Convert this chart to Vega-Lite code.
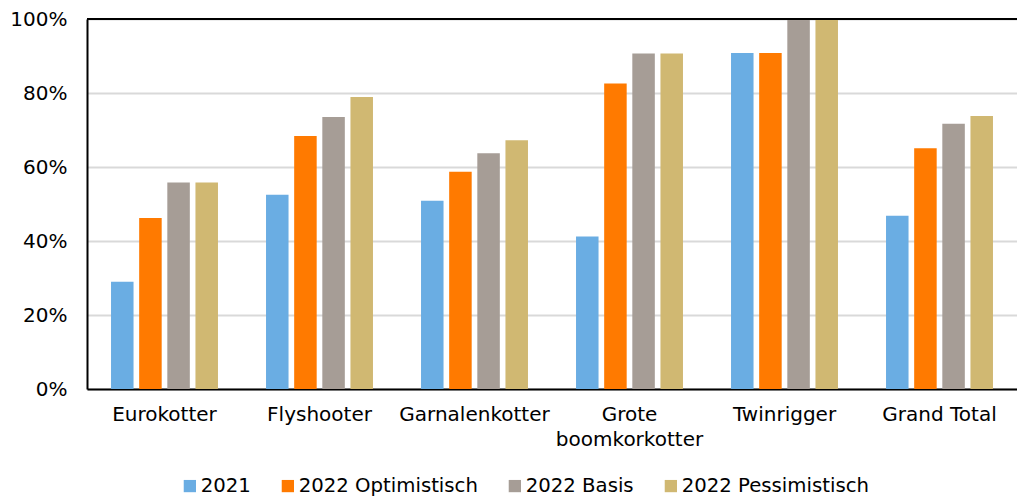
{
  "$schema": "https://vega.github.io/schema/vega-lite/v6.json",
  "width": 930,
  "height": 370,
  "autosize": "none",
  "padding": {"left": 87, "top": 19, "right": 0, "bottom": 110},
  "background": "white",
  "config": {
    "view": {"stroke": null},
    "font": "DejaVu Sans",
    "axis": {"labelFont": "DejaVu Sans", "labelColor": "#000000"},
    "legend": {"labelFont": "DejaVu Sans", "labelColor": "#000000"}
  },
  "data": {
    "values": [
      {"type": "Eurokotter", "scenario": "2021", "value": 0.290},
      {"type": "Eurokotter", "scenario": "2022 Optimistisch", "value": 0.462},
      {"type": "Eurokotter", "scenario": "2022 Basis", "value": 0.558},
      {"type": "Eurokotter", "scenario": "2022 Pessimistisch", "value": 0.558},
      {"type": "Flyshooter", "scenario": "2021", "value": 0.525},
      {"type": "Flyshooter", "scenario": "2022 Optimistisch", "value": 0.684},
      {"type": "Flyshooter", "scenario": "2022 Basis", "value": 0.735},
      {"type": "Flyshooter", "scenario": "2022 Pessimistisch", "value": 0.789},
      {"type": "Garnalenkotter", "scenario": "2021", "value": 0.509},
      {"type": "Garnalenkotter", "scenario": "2022 Optimistisch", "value": 0.587},
      {"type": "Garnalenkotter", "scenario": "2022 Basis", "value": 0.637},
      {"type": "Garnalenkotter", "scenario": "2022 Pessimistisch", "value": 0.672},
      {"type": "Grote boomkorkotter", "scenario": "2021", "value": 0.412},
      {"type": "Grote boomkorkotter", "scenario": "2022 Optimistisch", "value": 0.826},
      {"type": "Grote boomkorkotter", "scenario": "2022 Basis", "value": 0.907},
      {"type": "Grote boomkorkotter", "scenario": "2022 Pessimistisch", "value": 0.907},
      {"type": "Twinrigger", "scenario": "2021", "value": 0.908},
      {"type": "Twinrigger", "scenario": "2022 Optimistisch", "value": 0.908},
      {"type": "Twinrigger", "scenario": "2022 Basis", "value": 1.0},
      {"type": "Twinrigger", "scenario": "2022 Pessimistisch", "value": 1.0},
      {"type": "Grand Total", "scenario": "2021", "value": 0.468},
      {"type": "Grand Total", "scenario": "2022 Optimistisch", "value": 0.651},
      {"type": "Grand Total", "scenario": "2022 Basis", "value": 0.717},
      {"type": "Grand Total", "scenario": "2022 Pessimistisch", "value": 0.738}
    ]
  },
  "encoding": {
    "y": {
      "field": "value",
      "type": "quantitative",
      "scale": {"domain": [0, 1], "nice": false},
      "axis": {
        "title": null,
        "format": ".0%",
        "values": [0, 0.2, 0.4, 0.6, 0.8, 1],
        "labelFontSize": 20,
        "labelPadding": 20,
        "ticks": false,
        "domain": true,
        "domainColor": "#000000",
        "domainWidth": 2,
        "gridColor": "#d9d9d9",
        "gridWidth": 2
      }
    }
  },
  "layer": [
    {
      "mark": {"type": "bar"},
      "encoding": {
        "x": {
          "field": "type",
          "type": "nominal",
          "sort": ["Eurokotter", "Flyshooter", "Garnalenkotter", "Grote boomkorkotter", "Twinrigger", "Grand Total"],
          "scale": {"paddingInner": 0.31, "paddingOuter": 0.155},
          "axis": {
            "title": null,
            "labelAngle": 0,
            "labelFontSize": 20,
            "labelPadding": 15,
            "labelLineHeight": 25,
            "labelLimit": 300,
            "ticks": false,
            "domainColor": "#000000",
            "domainWidth": 2,
            "labelExpr": "datum.value == 'Grote boomkorkotter' ? ['Grote', 'boomkorkotter'] : datum.value"
          }
        },
        "xOffset": {
          "field": "scenario",
          "type": "nominal",
          "sort": ["2021", "2022 Optimistisch", "2022 Basis", "2022 Pessimistisch"],
          "scale": {"paddingInner": 0.2, "paddingOuter": 0}
        },
        "color": {
          "field": "scenario",
          "type": "nominal",
          "sort": ["2021", "2022 Optimistisch", "2022 Basis", "2022 Pessimistisch"],
          "scale": {
            "domain": ["2021", "2022 Optimistisch", "2022 Basis", "2022 Pessimistisch"],
            "range": ["#6aade3", "#ff7a00", "#a69d96", "#d0b872"]
          },
          "legend": {
            "title": null,
            "orient": "none",
            "legendX": 93,
            "legendY": 457,
            "direction": "horizontal",
            "symbolType": "square",
            "symbolSize": 150,
            "symbolStrokeWidth": 0,
            "symbolOffset": 0,
            "labelOffset": 1,
            "labelFontSize": 19.7,
            "labelLimit": 400,
            "columnPadding": 27
          }
        }
      }
    },
    {
      "mark": {"type": "rule", "color": "#000000", "strokeWidth": 2},
      "encoding": {"y": {"datum": 1}}
    }
  ]
}
